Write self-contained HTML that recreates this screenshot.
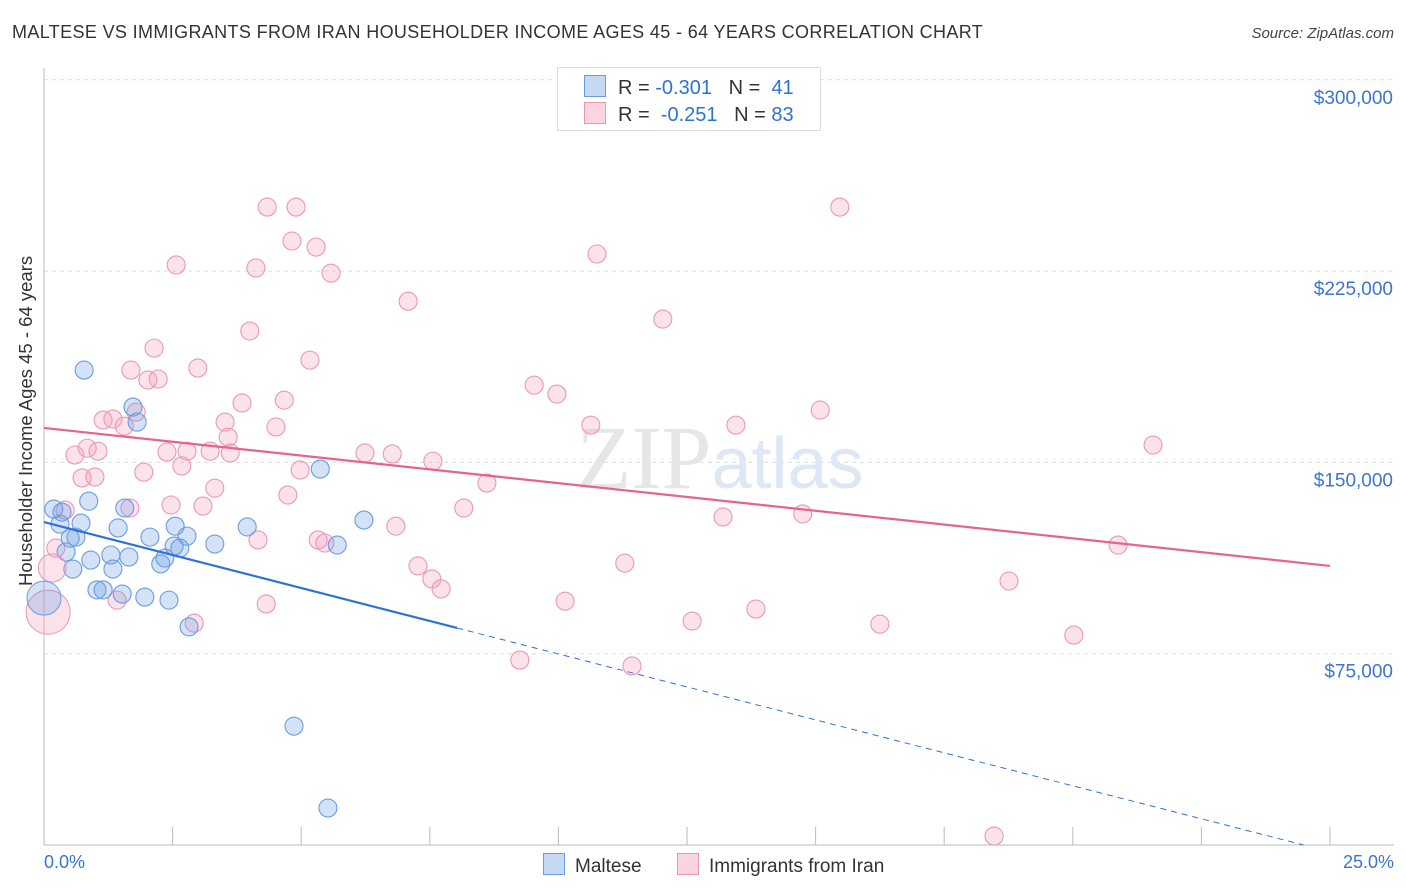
<!DOCTYPE html>
<html><head><meta charset="utf-8"><style>
body{margin:0;background:#fff;font-family:"Liberation Sans",sans-serif}
#wrap{position:relative;width:1406px;height:892px;overflow:hidden}
.t{position:absolute;white-space:nowrap}
</style></head><body>
<div id="wrap">
<div class="t" style="left:12px;top:22px;font-size:18px;letter-spacing:0.36px;color:#333">MALTESE VS IMMIGRANTS FROM IRAN HOUSEHOLDER INCOME AGES 45 - 64 YEARS CORRELATION CHART</div>
<div class="t" style="right:12px;top:25px;font-size:15px;color:#444;font-style:italic">Source: ZipAtlas.com</div>
<svg id="svg" width="1406" height="892" style="position:absolute;left:0;top:0"></svg>
</div>
<script>
const xTicks=[0,2.5,5,7.5,10,12.5,15,17.5,20,22.5,25];
const yTicks=[75,150,225,300];
const yTickLabels=["$75,000","$150,000","$225,000","$300,000"];
const blueX=[0.78,0.19,0.35,0.31,0.72,0.87,1.57,1.44,0.62,0.43,0.51,0.91,0.56,1.30,1.34,1.65,2.06,2.27,2.35,2.53,2.64,2.55,2.78,3.32,3.95,1.03,1.15,1.52,1.96,2.43,2.82,1.73,1.81,5.37,5.70,6.22,4.86,5.52];
const blueY=[186.2,131.7,130.5,125.8,126.2,134.8,132.1,124.3,120.7,114.9,120.3,111.7,108.2,113.7,108.2,112.9,120.7,110.2,112.5,117.2,116.4,125.0,121.1,118.0,124.7,100.0,100.0,98.4,97.2,96.0,85.5,171.7,165.8,147.4,117.6,127.4,46.6,14.5];
const blueBigX=[0];
const blueBigY=[96.8];
const pinkX=[4.34,4.90,15.47,4.82,5.29,10.75,2.57,4.12,5.58,7.08,12.03,4.00,2.14,5.17,2.99,1.69,2.02,2.22,9.53,9.97,3.85,4.67,15.09,1.79,1.15,1.34,1.56,3.52,4.51,10.63,13.45,3.58,0.84,0.60,1.05,2.39,2.78,3.23,3.62,6.24,6.77,21.56,7.56,2.68,1.94,4.98,0.74,0.99,8.61,3.32,4.74,2.47,3.09,8.16,1.67,0.41,13.20,14.75,6.84,4.16,5.33,5.46,20.88,0.23,11.29,7.27,7.54,7.72,18.76,4.32,1.42,10.13,13.84,2.92,12.60,16.25,20.02,9.25,11.43,18.47];
const pinkY=[250.1,250.1,250.1,236.8,234.4,231.7,227.4,226.2,224.2,213.2,206.2,201.5,194.8,190.1,187.0,186.2,182.3,182.7,180.3,176.8,173.3,174.4,170.5,169.7,166.6,167.0,164.2,165.8,163.9,164.6,164.6,159.9,155.6,152.9,154.4,154.1,154.4,154.4,153.7,153.7,153.3,156.8,150.5,148.6,146.2,147.0,143.9,144.3,141.9,139.9,137.2,133.3,132.9,132.1,132.1,131.3,128.6,129.8,125.0,119.6,119.6,118.4,117.6,116.4,110.5,109.4,104.3,100.4,103.5,94.5,96.0,95.6,92.5,87.0,87.8,86.6,82.3,72.5,70.2,3.5];
const pinkBigX=[0.08,0.16];
const pinkBigY=[91.3,108.6];
const blueTrend=[126.6,-5.17];
const pinkTrend=[163.5,-2.164];
const L=44,R=1330,B=845;
const sx=v=>L+(R-L)*v/25;
const sy=v=>B-v*191.3/75;
const svg=document.getElementById('svg');
const NS='http://www.w3.org/2000/svg';
function mk(tag,attrs,parent){const e=document.createElementNS(NS,tag);for(const k in attrs)e.setAttribute(k,attrs[k]);(parent||svg).appendChild(e);return e;}
yTicks.forEach((t,i)=>{
 const g=mk('line',{x1:L,x2:1394,y1:sy(t),y2:sy(t),stroke:'#ddd','stroke-dasharray':'4,4'});
 
 
 const tx=mk('text',{x:1393,y:sy(t)+24,'text-anchor':'end','font-size':19,fill:'#3b75d0'});
 tx.textContent=yTickLabels[i];
 
 
});
const ax=mk('line',{x1:L,x2:L,y1:68,y2:B,stroke:'#bbb'});


const bx=mk('line',{x1:L,x2:1394,y1:B,y2:B,stroke:'#bbb'});


xTicks.forEach(t=>{
 const k=mk('line',{x1:sx(t),x2:sx(t),y1:B,y2:B-18,stroke:'#bbb'});
 
 
});
const wm=mk('text',{x:720,y:488,'text-anchor':'middle','font-size':90,fill:'#e9eef5'});
wm.innerHTML='<tspan font-family="Liberation Serif" fill="#e6e6e6">ZIP</tspan><tspan fill="#dde7f5" font-size="72">atlas</tspan>';


function dots(xs,ys,r,fill,stroke,name){
 xs.forEach((x,i)=>{
  const c=mk('circle',{cx:sx(x),cy:sy(ys[i]),r:r,fill:fill,stroke:stroke,'stroke-width':1.1});
  
  
 });
}
dots(pinkX,pinkY,9,'rgba(244,160,188,0.3)','#eb97b4','iran-point');
dots(blueX,blueY,9,'rgba(110,160,230,0.3)','#6b9be0','maltese-point');
pinkBigX.forEach((x,i)=>{
 const c=mk('circle',{cx:sx(x),cy:sy(pinkBigY[i]),r:i==0?22:14,fill:'rgba(244,160,188,0.3)',stroke:'#eb97b4'});
 
 
});
blueBigX.forEach((x,i)=>{
 const c=mk('circle',{cx:sx(x),cy:sy(blueBigY[i]),r:17,fill:'rgba(110,160,230,0.3)',stroke:'#6b9be0'});
 
 
});
const bEnd=8.03, bZero=-blueTrend[0]/blueTrend[1];
const bl=mk('line',{x1:sx(0),y1:sy(blueTrend[0]),x2:sx(bEnd),y2:sy(blueTrend[0]+blueTrend[1]*bEnd),stroke:'#2e72d6','stroke-width':2.2});


const bd=mk('line',{x1:sx(bEnd),y1:sy(blueTrend[0]+blueTrend[1]*bEnd),x2:sx(Math.min(25,bZero)),y2:sy(Math.max(0,blueTrend[0]+blueTrend[1]*Math.min(25,bZero))),stroke:'#2e72d6','stroke-width':1,'stroke-dasharray':'6,5'});


const pl=mk('line',{x1:sx(0),y1:sy(pinkTrend[0]),x2:sx(25),y2:sy(pinkTrend[0]+pinkTrend[1]*25),stroke:'#e8628f','stroke-width':2.2});


</script>
<div class="t" style="left:-104px;top:445px;font-size:18.5px;color:#333;transform:rotate(-90deg);width:260px;text-align:center">Householder Income Ages 45 - 64 years</div>
<div class="t" style="left:44px;top:852px;font-size:18px;color:#3b75d0">0.0%</div>
<div class="t" style="right:12px;top:852px;font-size:18px;color:#3b75d0">25.0%</div>
<div style="position:absolute;left:557px;top:67px;width:262px;height:62px;border:1px solid #ddd;background:#fff;font-size:20px;color:#333">
 <div class="t" style="left:26px;top:7px"><span style="display:inline-block;width:20px;height:20px;background:#c5d9f5;border:1px solid #6b9be0;vertical-align:-3px;margin-right:12px"></span>R = <span style="color:#2e72d6">-0.301</span> &nbsp;&nbsp;N = &nbsp;<span style="color:#2e72d6">41</span></div>
 <div class="t" style="left:26px;top:34px"><span style="display:inline-block;width:20px;height:20px;background:#fcd3e0;border:1px solid #eb97b4;vertical-align:-3px;margin-right:12px"></span>R = &nbsp;<span style="color:#2e72d6">-0.251</span> &nbsp;&nbsp;N = <span style="color:#2e72d6">83</span></div>
</div>
<div class="t" style="left:543px;top:853px;font-size:19px;color:#333"><span style="display:inline-block;width:20px;height:20px;background:#c5d9f5;border:1px solid #6b9be0;vertical-align:-3px;margin-right:10px"></span>Maltese</div>
<div class="t" style="left:677px;top:853px;font-size:19px;color:#333"><span style="display:inline-block;width:20px;height:20px;background:#fcd3e0;border:1px solid #eb97b4;vertical-align:-3px;margin-right:10px"></span>Immigrants from Iran</div>
</body></html>
